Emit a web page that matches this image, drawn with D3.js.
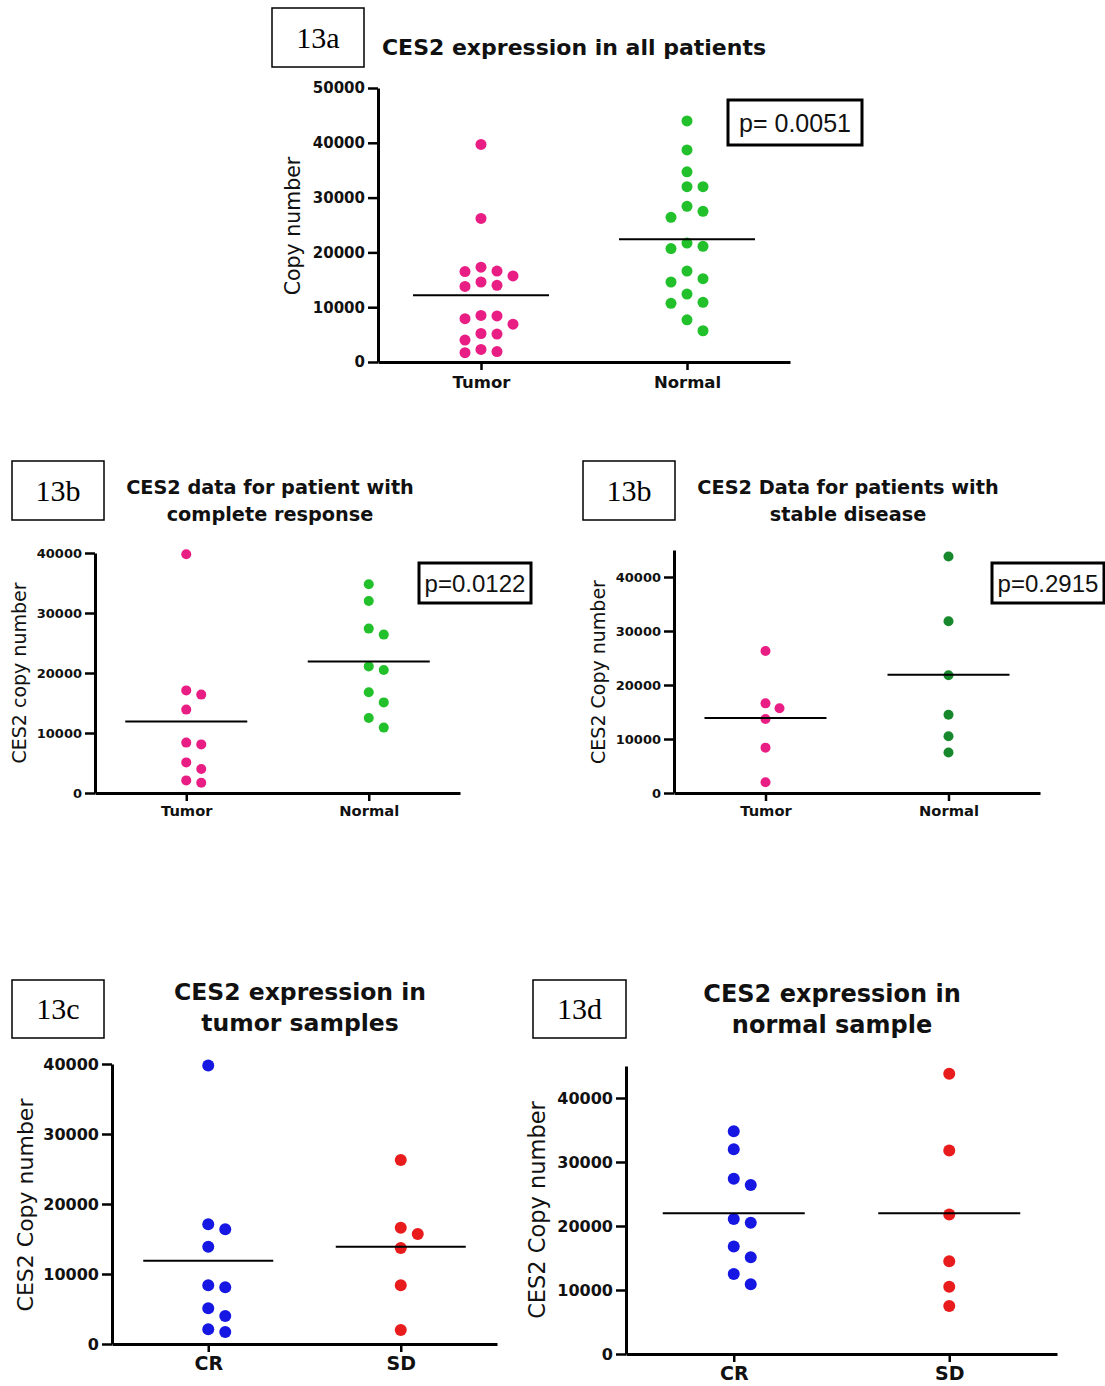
<!DOCTYPE html>
<html>
<head>
<meta charset="utf-8">
<script src="https://cdn.jsdelivr.net/npm/d3@7"></script>
<style>
  body { margin: 0; background: #fff; }
  svg { display: block; }
</style>
</head>
<body>
<div id="chart"></div>
<script>
const width = 1105;
const height = 1386;

// Categories
const catsTN = ["Tumor", "Normal"];
const catsCRSD = ["CR", "SD"];

// All patients (13a)
const allTumor = [39700, 26200, 17300, 16600, 16500, 15700, 14600, 14000, 13800, 8500, 8400, 7900, 6900, 5200, 5100, 4000, 2300, 1900, 1700];
const allNormal = [44000, 38700, 34700, 32000, 32000, 28400, 27500, 26400, 21700, 21100, 20700, 16600, 15200, 14600, 12400, 10900, 10700, 7700, 5700];
const allMeans = [12200, 22400];

// Complete response patients
const crTumor = [39800, 17100, 16400, 13900, 8400, 8100, 5100, 4000, 2100, 1700];
const crNormal = [34800, 32000, 27400, 26400, 21100, 20500, 16800, 15100, 12500, 10900];
const crMeans = [11900, 21900];

// Stable disease patients
const sdTumor = [26300, 16600, 15700, 13700, 8400, 2000];
const sdNormal = [43800, 31800, 21800, 14500, 10500, 7500];
const sdMeans = [13900, 21900];

// CR vs SD
const tumorMeansCRSD = [11900, 13900];
const normalMeansCRSD = [22000, 22000];

// Tick labels
const ticks50k = [0, 10000, 20000, 30000, 40000, 50000];
const ticks40k = [0, 10000, 20000, 30000, 40000];

const pink = "#e91e84", green = "#22c02a", darkGreen = "#17882c", blue = "#1717e3", red = "#e81c1c";

const svg = d3.select("#chart")
    .append("svg")
    .attr("width", width)
    .attr("height", height);

const chartFont = "'DejaVu Sans', Verdana, sans-serif";

// simple column scatter layout, like prism's
function swarm(values, y, cx, r, step) {
    const placed = [];
    const order = values.map((v, i) => i).sort((a, b) => values[b] - values[a]);
    order.forEach(i => {
        const py = y(values[i]);
        for (const k of [0, 1, -1, 2, -2, 3, -3, 4, -4]) {
            const px = cx + k * step;
            if (placed.every(q => Math.hypot(q.x - px, q.y - py) >= 2 * r + 0.5)) {
                placed.push({ x: px, y: py });
                break;
            }
        }
    });
    return placed;
}

function drawPanel(p) {
    const g = svg.append("g");

    const x = d3.scalePoint()
        .domain(p.cats)
        .range([p.left, p.right])
        .padding(0.5);

    const y = d3.scaleLinear()
        .domain([0, p.yMax])
        .range([p.bottom, p.top]);

    // y axis
    const ya = g.append("g")
        .attr("transform", `translate(${p.left},0)`)
        .call(d3.axisLeft(y).tickValues(p.ticks).tickSize(10).tickSizeOuter(0).tickPadding(3).tickFormat(d3.format("d")));
    ya.select(".domain").attr("stroke-width", 3).attr("stroke", "#000");
    ya.selectAll(".tick line").attr("stroke-width", 2.5).attr("stroke", "#000");
    ya.selectAll("text")
        .attr("font-family", chartFont)
        .attr("font-weight", "bold")
        .attr("font-size", p.tickSize)
        .attr("fill", "#111");

    // x axis
    const xa = g.append("g")
        .attr("transform", `translate(0,${p.bottom})`)
        .call(d3.axisBottom(x).tickSize(8).tickSizeOuter(0).tickPadding(p.catPad));
    xa.select(".domain").attr("stroke-width", 3).attr("stroke", "#000");
    xa.selectAll(".tick line").attr("stroke-width", 2.5).attr("stroke", "#000");
    xa.selectAll("text")
        .attr("font-family", chartFont)
        .attr("font-weight", "bold")
        .attr("font-size", p.catSize)
        .attr("fill", "#111");

    // points
    p.series.forEach((vals, i) => {
        const pts = swarm(vals, y, x(p.cats[i]), p.r, p.step);
        g.selectAll(null)
            .data(pts)
          .enter().append("circle")
            .attr("cx", d => d.x)
            .attr("cy", d => d.y)
            .attr("r", p.r)
            .attr("fill", p.colors[i]);
    });

    // mean lines
    p.means.forEach((m, i) => {
        g.append("line")
            .attr("x1", x(p.cats[i]) - p.meanHalf)
            .attr("x2", x(p.cats[i]) + p.meanHalf)
            .attr("y1", y(m))
            .attr("y2", y(m))
            .attr("stroke", "#000")
            .attr("stroke-width", 2);
    });

    // y label
    g.append("text")
        .attr("transform", `translate(${p.yLabelX},${p.yLabelY}) rotate(-90)`)
        .attr("text-anchor", "middle")
        .attr("dy", "0.35em")
        .attr("font-family", chartFont)
        .attr("font-size", p.yLabelSize)
        .attr("fill", "#111")
        .text(p.yLabel);

    // title
    p.title.forEach((line, i) => {
        g.append("text")
            .attr("x", p.titleX)
            .attr("y", p.titleY + i * p.titleGap)
            .attr("text-anchor", "middle")
            .attr("font-family", chartFont)
            .attr("font-weight", "bold")
            .attr("font-size", p.titleSize)
            .attr("fill", "#111")
            .text(line);
    });

    // figure tag box
    g.append("rect")
        .attr("x", p.tag[0]).attr("y", p.tag[1])
        .attr("width", p.tag[2]).attr("height", p.tag[3])
        .attr("fill", "none").attr("stroke", "#000").attr("stroke-width", 1.5);
    g.append("text")
        .attr("x", p.tag[0] + p.tag[2] / 2)
        .attr("y", p.tag[1] + p.tag[3] / 2 + 10)
        .attr("text-anchor", "middle")
        .attr("font-family", "'Liberation Serif', 'Times New Roman', serif")
        .attr("font-size", 30)
        .text(p.tagText);

    // p value box
    if (p.pBox) {
        g.append("rect")
            .attr("x", p.pBox[0]).attr("y", p.pBox[1])
            .attr("width", p.pBox[2]).attr("height", p.pBox[3])
            .attr("fill", "#fff").attr("stroke", "#000").attr("stroke-width", 3);
        g.append("text")
            .attr("x", p.pBox[0] + p.pBox[2] / 2)
            .attr("y", p.pBox[1] + p.pBox[3] / 2)
            .attr("dy", "0.36em")
            .attr("text-anchor", "middle")
            .attr("font-family", "'Liberation Sans', Arial, sans-serif")
            .attr("font-size", p.pSize)
            .attr("fill", "#111")
            .text(p.pText);
    }
}

// 13a
drawPanel({
    left: 378, right: 790, bottom: 362, top: 88, yMax: 50000, ticks: ticks50k,
    cats: catsTN, series: [allTumor, allNormal], colors: [pink, green], means: allMeans,
    r: 5.5, step: 16, meanHalf: 68, tickSize: 15, catSize: 16.5, catPad: 6,
    yLabel: "Copy number", yLabelX: 293, yLabelY: 226, yLabelSize: 20.5,
    title: ["CES2 expression in all patients"], titleX: 574, titleY: 55, titleGap: 0, titleSize: 22,
    tag: [272, 8, 92, 59], tagText: "13a",
    pBox: [728, 100, 134, 45], pText: "p= 0.0051", pSize: 25
});

// 13b, complete response
drawPanel({
    left: 95, right: 460, bottom: 793, top: 553, yMax: 40000, ticks: ticks40k,
    cats: catsTN, series: [crTumor, crNormal], colors: [pink, green], means: crMeans,
    r: 5, step: 15, meanHalf: 61, tickSize: 13, catSize: 14.7, catPad: 5,
    yLabel: "CES2 copy number", yLabelX: 19, yLabelY: 673, yLabelSize: 19,
    title: ["CES2 data for patient with", "complete response"], titleX: 270, titleY: 494, titleGap: 27, titleSize: 19.3,
    tag: [12, 461, 92, 59], tagText: "13b",
    pBox: [419, 563, 112, 40], pText: "p=0.0122", pSize: 24
});

// 13b, stable disease
drawPanel({
    left: 674, right: 1040, bottom: 793, top: 550, yMax: 45000, ticks: ticks40k,
    cats: catsTN, series: [sdTumor, sdNormal], colors: [pink, darkGreen], means: sdMeans,
    r: 5, step: 14, meanHalf: 61, tickSize: 13, catSize: 14.7, catPad: 5,
    yLabel: "CES2 Copy number", yLabelX: 598, yLabelY: 672, yLabelSize: 19,
    title: ["CES2 Data for patients with", "stable disease"], titleX: 848, titleY: 494, titleGap: 27, titleSize: 19.3,
    tag: [583, 461, 92, 59], tagText: "13b",
    pBox: [992, 563, 112, 40], pText: "p=0.2915", pSize: 24
});

// 13c, tumor samples
drawPanel({
    left: 112, right: 497, bottom: 1344, top: 1064, yMax: 40000, ticks: ticks40k,
    cats: catsCRSD, series: [crTumor, sdTumor], colors: [blue, red], means: tumorMeansCRSD,
    r: 6, step: 17, meanHalf: 65, tickSize: 16, catSize: 19, catPad: 5,
    yLabel: "CES2 Copy number", yLabelX: 25, yLabelY: 1205, yLabelSize: 22,
    title: ["CES2 expression in", "tumor samples"], titleX: 300, titleY: 1000, titleGap: 31, titleSize: 23.5,
    tag: [12, 980, 92, 58], tagText: "13c"
});

// 13d, normal samples
drawPanel({
    left: 626, right: 1057, bottom: 1354, top: 1066, yMax: 45000, ticks: ticks40k,
    cats: catsCRSD, series: [crNormal, sdNormal], colors: [blue, red], means: normalMeansCRSD,
    r: 6, step: 17, meanHalf: 71, tickSize: 16, catSize: 19, catPad: 5,
    yLabel: "CES2 Copy number", yLabelX: 537, yLabelY: 1210, yLabelSize: 22.5,
    title: ["CES2 expression in", "normal sample"], titleX: 832, titleY: 1002, titleGap: 31, titleSize: 24,
    tag: [533, 980, 93, 58], tagText: "13d"
});
</script>
</body>
</html>
